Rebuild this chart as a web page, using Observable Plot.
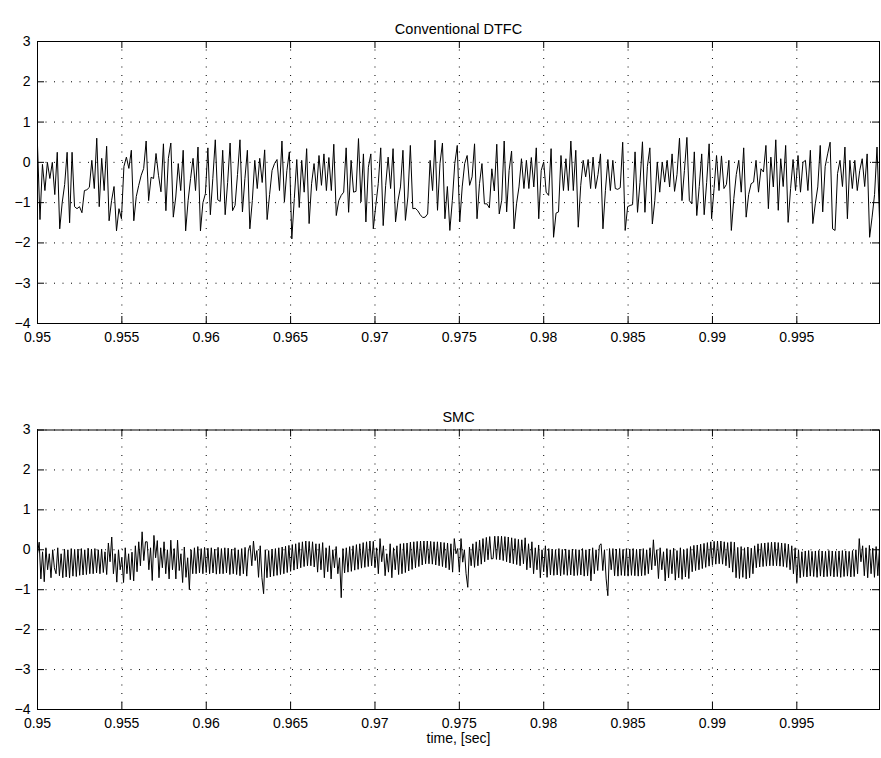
<!DOCTYPE html>
<html><head><meta charset="utf-8">
<script src="https://cdn.jsdelivr.net/npm/d3@7"></script>
<script src="https://cdn.jsdelivr.net/npm/@observablehq/plot@0.6"></script>
<style>
body{margin:0;background:#fff;}
#wrap{position:relative;width:881px;height:758px;background:#fff;overflow:hidden;}
#wrap svg{position:absolute;left:0;}
</style></head><body><div id="wrap"></div>
<script>
const tStart = 0.95, tEnd = 0.9999;
const xTicks = [0.95,0.955,0.96,0.965,0.97,0.975,0.98,0.985,0.99,0.995];
const xTickLabels = ["0.95","0.955","0.96","0.965","0.97","0.975","0.98","0.985","0.99","0.995"];
const yTicks = [-4,-3,-2,-1,0,1,2,3];
const yTickLabels = ["\u22124","\u22123","\u22122","\u22121","0","1","2","3"];
const titles = ["Conventional DTFC","SMC"];
const xLabel = "time, [sec]";

// Conventional DTFC signal (uniform sampling)
const dtfc = [
0.42,-1.42,-0.05,-0.7,0.0,-0.4,0.0,-0.8,0.25,-1.65,-1.0,-0.55,0.25,-1.5,0.25,-1.1,-1.15,-1.1,-1.25,-0.7,-0.68,-0.62,0.05,-0.65,0.6,-1.1,0.1,-0.7,0.4,-1.45,-0.95,-0.6,-1.7,-1.15,-1.4,-0.1,0.13,-0.15,0.3,-1.45,-0.85,-0.57,-0.32,-0.15,0.53,-0.95,-0.37,-0.4,0.22,-0.32,-0.73,0.46,-1.2,0.1,0.48,-1.36,-0.86,-0.03,
-0.7,0.3,-1.7,-0.95,-0.4,0.1,-0.7,0.38,-1.7,-1.0,-0.78,0.36,-1.3,-0.4,0.56,-0.93,-0.97,0.3,-1.3,-0.5,0.48,-1.2,-1.07,-0.3,0.56,-1.23,-0.4,0.3,-1.65,-0.95,0.05,-0.65,0.1,-0.5,0.31,-1.42,-0.8,-0.2,-0.03,0.07,-0.7,0.53,-0.98,-0.2,0.26,-1.9,-0.9,0.07,-1.12,0.05,-0.74,0.34,-1.52,-0.53,-0.03,
-0.7,0.17,-0.57,0.21,-0.7,0.12,-0.7,0.45,-1.32,-0.95,-0.82,-0.74,0.36,-1.24,0.05,-0.74,-0.72,0.59,-0.98,0.21,-1.48,-0.12,0.21,-1.65,-1.07,-0.53,0.36,-1.57,-0.57,0.13,-0.65,0.34,-1.48,-0.95,-0.61,0.3,-1.44,-0.86,0.42,-1.15,-1.14,-1.2,-1.3,-1.37,-1.36,-1.28,0.05,-0.7,0.55,-1.19,-0.03,0.48,-1.4,-0.6,-1.69,
-0.95,-0.03,0.42,-1.48,-0.61,-0.03,0.17,-0.57,-0.36,0.46,-1.4,-0.53,-0.03,-1.03,-1.03,-1.13,-0.16,-0.71,0.45,-1.28,-0.94,0.53,-1.23,-0.2,0.28,-1.65,-1.03,-0.61,0.09,-0.65,0.05,-0.65,0.12,-0.61,0.36,-1.4,-0.2,0.01,-0.74,-0.82,0.34,-1.86,-1.26,-1.23,0.17,-0.7,0.09,-0.7,0.53,-0.7,0.3,-1.61,-0.57,0.05,-0.36,
0.07,-0.65,0.13,-0.65,-0.3,0.21,-1.65,-0.7,0.07,-0.7,0.05,-0.65,-0.67,-0.63,0.5,-1.69,-1.1,-1.07,-1.05,0.26,-1.24,-0.5,0.51,-1.24,-0.1,0.36,-1.53,-0.95,0.01,-0.74,0.01,-0.49,0.05,-0.61,0.21,-0.72,-0.3,0.6,-0.95,-0.2,0.62,-0.95,-1.03,0.26,-1.32,-0.6,0.21,-1.3,-0.5,0.46,-1.4,-0.65,0.17,-0.7,0.16,-0.65,-0.55,0.05,-1.69,
-0.9,-0.3,0.05,-0.74,0.36,-1.36,-0.8,-0.53,-0.49,0.05,-0.74,-0.16,-0.24,0.42,-1.15,0.13,-0.61,0.56,-1.19,0.09,-0.6,0.42,-1.49,-0.65,0.07,-0.7,0.17,-0.74,0.0,0.05,-0.7,0.3,-1.52,-1.03,-0.61,0.42,-1.23,-0.1,0.21,0.5,-1.65,-1.69,-0.28,0.05,-0.6,0.38,-1.4,0.05,-0.65,0.05,-0.7,-0.2,0.09,-0.6,0.21,-1.86,-1.36,-0.8,0.38,-1.4
];

// SMC signal (uniform sampling)
const smc = [
-0.1,0.19,-0.73,-0.05,-0.8,0.05,-0.5,-0.1,-0.7,0.0,-0.45,-0.6,0.05,-0.65,-0.1,-0.7,
0.02,-0.68,0.0,-0.7,0.03,-0.66,0.01,-0.67,0.02,-0.64,0.03,-0.63,0.0,-0.62,0.04,-0.6,0.02,-0.6,0.03,-0.58,0.0,-0.6,0.02,-0.57,-0.05,-0.62,
0.17,-0.3,0.32,-0.6,-0.1,-0.81,0.0,-0.5,-0.2,-0.82,0.05,-0.6,-0.1,-0.75,
-0.06,-0.78,0.1,-0.55,0.2,-0.4,0.45,-0.27,0.2,
0.2,-0.5,0.05,-0.77,0.36,-0.2,0.23,-0.7,0.05,-0.45,0.2,-0.6,0.0,-0.73,0.24,-0.5,
0.03,-0.73,0.24,-0.52,-0.1,-0.82,0.07,-0.69,-0.2,-1.0,0.0,-0.6,
0.05,-0.6,0.08,-0.58,0.03,-0.6,0.06,-0.57,0.04,-0.6,0.05,-0.58,0.02,-0.61,0.06,-0.6,0.03,-0.6,0.05,-0.58,0.04,-0.62,0.02,-0.6,0.05,-0.62,0.0,-0.65,0.03,-0.6,0.06,-0.66,0.0,
0.11,-0.4,0.22,-0.27,-0.02,-0.69,0.1,-0.7,-1.1,
0.0,-0.7,-0.02,-0.68,0.02,-0.66,0.03,-0.64,0.05,-0.62,0.07,-0.6,0.09,-0.57,0.11,-0.54,0.13,-0.51,0.15,-0.48,0.18,-0.45,0.2,-0.42,0.22,-0.4,0.21,-0.4,0.2,-0.43,0.15,-0.56,
0.15,-0.5,0.18,-0.7,0.05,-0.55,0.1,-0.73,0.0,-0.45,0.08,-0.6,-0.2,-1.2,
0.03,-0.58,0.05,-0.56,0.08,-0.54,0.1,-0.51,0.13,-0.49,0.15,-0.46,0.18,-0.44,0.2,-0.42,0.22,-0.4,0.21,
-0.45,0.05,-0.6,0.28,-0.3,0.1,-0.65,-0.1,-0.56,0.15,-0.7,0.05,-0.5,0.1,-0.62,
0.15,-0.6,0.16,-0.57,0.17,-0.53,0.19,-0.49,0.2,-0.45,0.21,-0.42,0.22,-0.38,0.22,-0.35,0.22,-0.35,0.21,-0.36,0.2,-0.38,0.2,-0.4,0.19,-0.42,0.18,-0.45,0.17,-0.5,0.15,-0.56,
0.28,-0.1,0.03,-0.56,0.28,-0.31,0.0,-0.6,-0.94,0.07,-0.4,
0.15,-0.44,0.2,-0.4,0.24,-0.36,0.28,-0.3,0.31,-0.25,0.33,-0.23,-0.22,0.34,-0.24,0.34,-0.25,0.34,-0.27,0.33,-0.3,0.32,-0.33,0.3,-0.35,0.28,-0.37,0.26,-0.4,0.25,
-0.35,0.3,-0.5,0.15,-0.45,0.2,-0.6,0.05,-0.5,0.12,-0.7,0.0,-0.55,0.1,-0.69,0.03,
-0.63,0.02,-0.64,0.0,-0.63,0.03,-0.65,0.01,-0.62,0.02,-0.64,0.0,-0.63,0.02,-0.65,0.01,-0.64,0.0,-0.63,0.03,-0.66,0.0,-0.65,0.02,-0.78,0.05,-0.6,0.0,
-0.52,0.11,0.15,-0.52,0.0,-0.73,-1.15,0.03,-0.5,
0.03,-0.65,0.02,-0.66,0.03,-0.64,0.01,-0.65,0.03,-0.66,0.02,-0.64,0.03,-0.65,0.01,-0.66,0.02,-0.65,0.03,-0.64,0.0,-0.6,0.05,-0.5,
0.25,-0.4,
0.0,-0.72,0.05,-0.5,-0.05,-0.78,0.03,-0.7,0.0,-0.6,0.04,-0.76,-0.02,-0.7,0.05,-0.74,0.0,-0.68,0.03,-0.72,0.08,-0.55,
0.11,-0.52,0.12,-0.5,0.14,-0.47,0.16,-0.44,0.18,-0.41,0.2,-0.38,0.21,-0.36,0.22,-0.35,0.22,-0.36,0.2,-0.4,0.18,-0.45,0.2,-0.56,0.19,
-0.7,0.06,-0.72,0.08,-0.69,0.05,-0.73,0.07,-0.7,0.04,-0.6,0.1,
-0.45,0.15,-0.43,0.16,-0.42,0.17,-0.41,0.18,-0.4,0.19,-0.4,0.19,-0.4,0.18,-0.41,0.17,-0.42,0.16,-0.44,0.14,-0.5,0.1,
-0.6,0.05,-0.82,0.0,-0.7,-0.05,
-0.67,-0.03,-0.68,-0.02,-0.66,-0.04,-0.67,-0.03,-0.69,-0.02,-0.66,-0.03,-0.68,-0.04,-0.67,-0.02,-0.66,-0.03,-0.68,-0.04,-0.67,-0.03,-0.69,-0.02,-0.67,-0.03,-0.66,-0.04,-0.68,-0.02,-0.67,0.0,-0.6,
0.28,-0.3,
0.1,-0.65,0.05,-0.7,0.11,-0.6,0.04,-0.69,0.08,-0.65,0.05
];

function series(vals) {
  const dt = (tEnd - tStart) / (vals.length - 1);
  return vals.map((v, i) => ({t: tStart + i * dt, v}));
}

const FONT = "'Liberation Sans', Arial, Helvetica, sans-serif";

function panel(vals, title, xlab, top, height, mt, mb) {
  const ml = 37, mr = 2, W = 881;
  const ph = height - mt - mb, pw = W - ml - mr;
  const tk = 7;
  const fmtX = d => xTickLabels[xTicks.indexOf(d)];
  const fmtY = d => yTickLabels[yTicks.indexOf(d)];
  const dot = {stroke: "#000", strokeOpacity: 1, strokeWidth: 1, strokeDasharray: "1,7.5"};
  const marks = [
    Plot.gridX(xTicks, dot),
    Plot.gridY(yTicks, dot),
    Plot.axisX(xTicks, {tickSize: 0, tickPadding: 9, tickFormat: fmtX, label: null, fontSize: 14}),
    Plot.axisY(yTicks, {tickSize: 0, tickPadding: 7, tickFormat: fmtY, label: null, fontSize: 14}),
    Plot.tickX(xTicks, {x: d => d, insetTop: ph - tk, stroke: "#000"}),
    Plot.tickX(xTicks, {x: d => d, insetBottom: ph - tk, stroke: "#000"}),
    Plot.tickY(yTicks, {y: d => d, insetRight: pw - tk, stroke: "#000"}),
    Plot.tickY(yTicks, {y: d => d, insetLeft: pw - tk, stroke: "#000"}),
    Plot.line(series(vals), {x: "t", y: "v", stroke: "#000", strokeWidth: 1}),
    Plot.frame({stroke: "#000"}),
    Plot.text([title], {frameAnchor: "top", dy: -8, lineAnchor: "bottom", fontSize: 14.5, fill: "#000"})
  ];
  if (xlab) marks.push(Plot.text([xlab], {frameAnchor: "bottom", dy: 24, lineAnchor: "top", fontSize: 14, fill: "#000"}));
  const svg = Plot.plot({
    width: W, height, marginTop: mt, marginBottom: mb, marginLeft: ml, marginRight: mr,
    style: {fontFamily: FONT, fontSize: "14px", color: "#000", background: "transparent", overflow: "visible"},
    x: {domain: [tStart, tEnd]},
    y: {domain: [-4, 3]},
    marks
  });
  svg.style.top = top + "px";
  document.getElementById("wrap").appendChild(svg);
}

panel(dtfc, titles[0], null, 0, 388, 41, 65);
panel(smc, titles[1], xLabel, 388, 370, 41.5, 49);
</script>
</body></html>
